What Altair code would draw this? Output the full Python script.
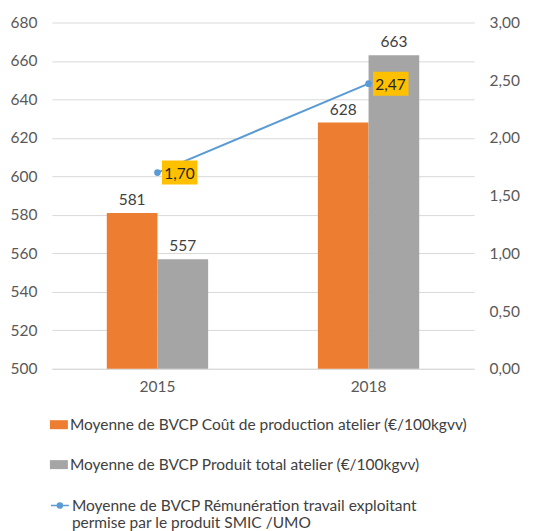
import altair as alt
import pandas as pd

years = ["2015", "2018"]
cout = [581, 628]
produit = [557, 663]
remun = [1.70, 2.47]
remun_labels = ["1,70", "2,47"]
series_bar = [
    "Moyenne de BVCP Coût de production atelier (€/100kgvv)",
    "Moyenne de BVCP Produit total atelier (€/100kgvv)",
]
series_line = "Moyenne de BVCP Rémunération travail exploitant|permise par le produit SMIC /UMO"
left_ticks = [500, 520, 540, 560, 580, 600, 620, 640, 660, 680]
right_ticks = [0, 0.5, 1.0, 1.5, 2.0, 2.5, 3.0]

FONT = "Lato"
FS = 15.5
bars_df = pd.DataFrame({
    "year": years * 2,
    "series": [series_bar[0]] * 2 + [series_bar[1]] * 2,
    "value": cout + produit,
})
line_df = pd.DataFrame({
    "year": years,
    "line_series": [series_line] * 2,
    "value": remun,
    "label": remun_labels,
})

x = alt.X("year:N", scale=alt.Scale(paddingInner=0.52, paddingOuter=0.26),
          axis=alt.Axis(title=None, labelAngle=0, ticks=False, domainColor="#D9D9D9",
                        labelPadding=11, labelFontSize=FS, labelColor="#595959", labelFont=FONT))
xoff = alt.XOffset("series:N", sort=series_bar, scale=alt.Scale(paddingInner=0, paddingOuter=0))
y_left = alt.Y("value:Q", scale=alt.Scale(domain=[500, 680], zero=False, nice=False),
               axis=alt.Axis(title=None, values=left_ticks, ticks=False, domain=False,
                             gridColor="#D9D9D9", labelPadding=15, labelFontSize=FS,
                             labelColor="#595959", labelFont=FONT))

bars = alt.Chart(bars_df).mark_bar().encode(
    x=x, xOffset=xoff, y=y_left, y2=alt.datum(500),
    color=alt.Color("series:N", sort=series_bar,
                    scale=alt.Scale(domain=series_bar, range=["#ED7D31", "#A5A5A5"]),
                    legend=alt.Legend(orient="none", legendX=-2, legendY=394, title=None,
                                      symbolType="M-1,-0.5L1,-0.5L1,0.5L-1,0.5Z", symbolSize=324,
                                      labelFontSize=FS, labelFont=FONT, labelColor="#404040",
                                      labelLimit=600, rowPadding=22, labelOffset=2,
                                      symbolStrokeWidth=0)),
)
bar_text = alt.Chart(bars_df).mark_text(baseline="bottom", dy=-5, fontSize=FS, font=FONT,
                                        color="#404040").encode(
    x=x, xOffset=xoff, y=y_left, text=alt.Text("value:Q"))

y_right = alt.Y("value:Q", scale=alt.Scale(domain=[0, 3], nice=False),
                axis=alt.Axis(title=None, orient="right", values=right_ticks, ticks=False,
                              domain=False, grid=False, labelPadding=15, labelFontSize=FS,
                              labelColor="#595959", labelFont=FONT,
                              labelExpr="replace(format(datum.value, '.2f'), '.', ',')"))

line = alt.Chart(line_df).mark_line(strokeWidth=2, point=alt.OverlayMarkDef(size=22, filled=True, color="#5B9BD5")).encode(
    x=x, y=y_right,
    stroke=alt.Stroke("line_series:N", scale=alt.Scale(domain=[series_line], range=["#5B9BD5"]),
                      legend=alt.Legend(orient="none", legendX=-2, legendY=479, title=None,
                                        symbolType="M-1,-0.55L1,-0.55M0.28,-0.55A0.28,0.28,0,1,1,-0.28,-0.55A0.28,0.28,0,1,1,0.28,-0.55Z",
                                        symbolSize=324, symbolFillColor="#5B9BD5",
                                        symbolStrokeColor="#5B9BD5", symbolStrokeWidth=1.5,
                                        labelFontSize=FS, labelFont=FONT, labelColor="#404040",
                                        labelLimit=600, labelOffset=2, labelBaseline="alphabetic",
                                        labelExpr="split(datum.label, '|')")),
)
box = alt.Chart(line_df).mark_point(shape="M0.45,-1.2L4,-1.2L4,1.2L0.45,1.2Z", size=400,
                                    filled=True, fill="#FFC000", opacity=1, strokeWidth=0).encode(
    x=x, y=y_right)
box_text = alt.Chart(line_df).mark_text(dx=22, dy=1, fontSize=FS, font=FONT, color="#262626",
                                        baseline="middle").encode(
    x=x, y=y_right, text="label:N")

right = alt.layer(line, box, box_text)
chart = alt.layer(alt.layer(bars, bar_text), right).resolve_scale(
    y="independent", color="independent"
).properties(
    width=423, height=347, background="white",
    autosize=alt.AutoSizeParams(type="none"),
    padding={"left": 44, "top": 14, "right": 60, "bottom": 162},
).configure_view(stroke=None)

chart.save("out.html", embed_options={"renderer": "svg", "actions": False})
